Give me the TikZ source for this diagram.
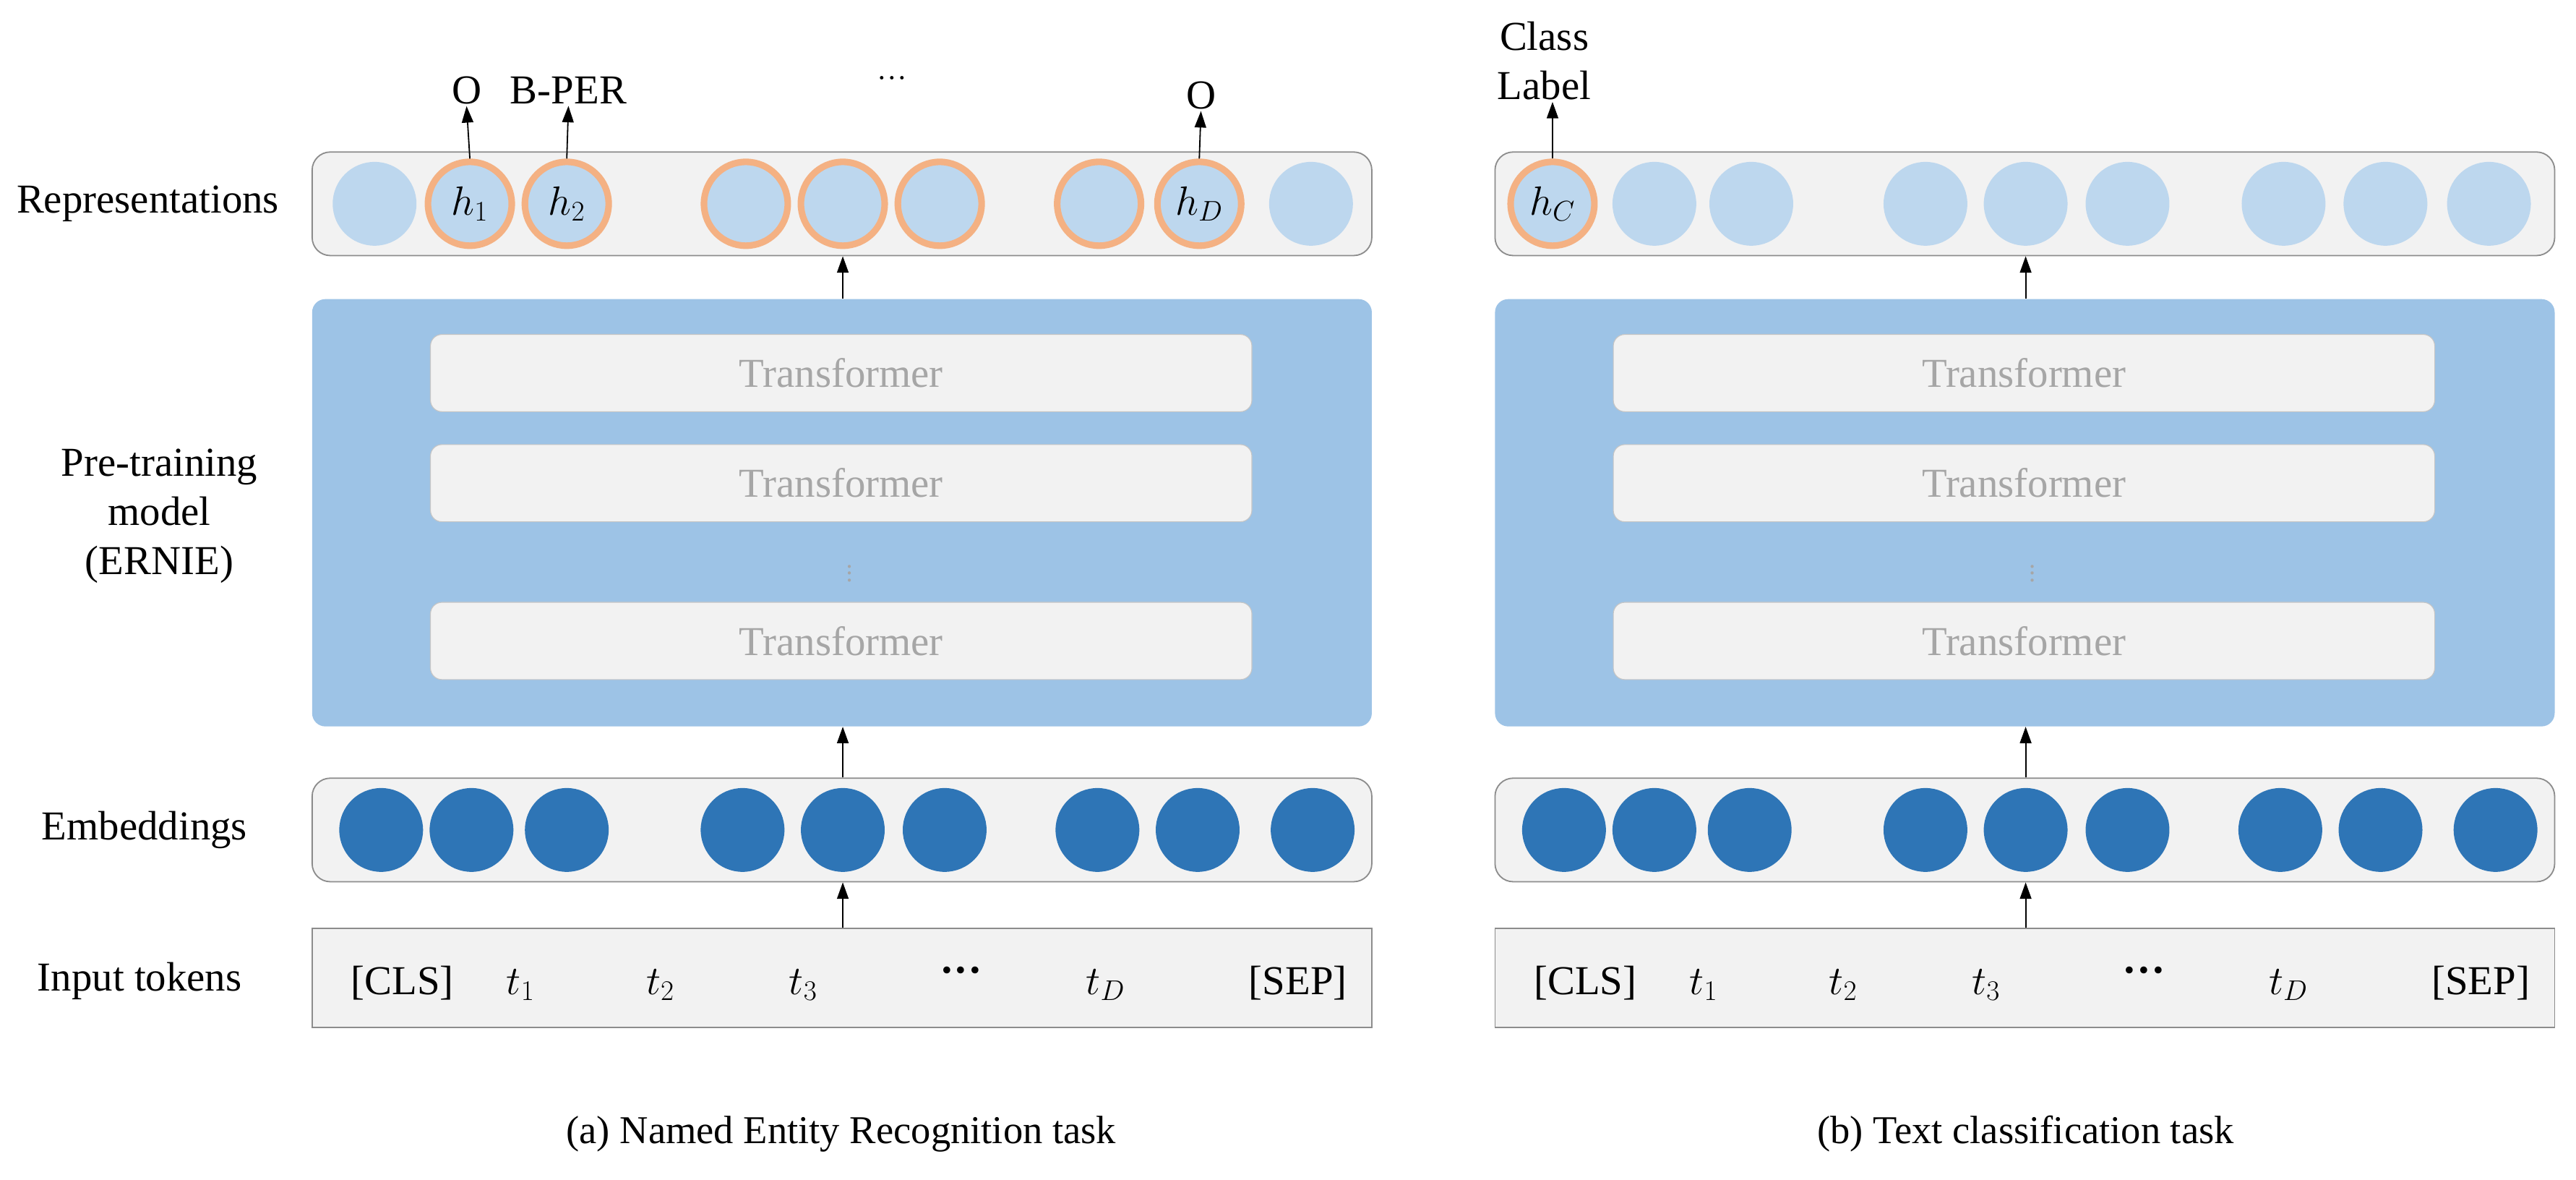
\documentclass[tikz,border=0pt]{standalone}
\usepackage{fontspec}
\setmainfont{Liberation Serif}
\usetikzlibrary{arrows.meta}
\definecolor{tubefill}{HTML}{F2F2F2}
\definecolor{tubedraw}{HTML}{8C8C8C}
\definecolor{bigblue}{HTML}{9DC3E6}
\definecolor{lightblue}{HTML}{BDD7EE}
\definecolor{darkblue}{HTML}{2E75B6}
\definecolor{orng}{HTML}{F4B183}
\definecolor{tgray}{HTML}{A6A6A6}
\begin{document}
\begin{tikzpicture}[x=1pt,y=-1pt,
  tube/.style={draw=tubedraw,fill=tubefill,line width=0.8pt,rounded corners=11pt,minimum width=645pt,minimum height=63pt,inner sep=0pt},
  inbox/.style={draw=tubedraw,fill=tubefill,line width=0.8pt,minimum width=645pt,minimum height=60pt,inner sep=0pt},
  big/.style={fill=bigblue,rounded corners=8pt,minimum width=645pt,minimum height=260pt,inner sep=0pt},
  trans/.style={draw=tubedraw!50,fill=tubefill,line width=0.5pt,rounded corners=7pt,minimum width=500pt,minimum height=47pt,text=tgray,font=\fontsize{25}{30}\selectfont},
  rep/.style={circle,fill=lightblue,minimum size=51pt,inner sep=0pt},
  repo/.style={circle,fill=lightblue,draw=orng,line width=4pt,minimum size=51pt,inner sep=0pt,font=\fontsize{25}{30}\selectfont},
  emb/.style={circle,fill=darkblue,minimum size=51pt,inner sep=0pt},
  lbl/.style={font=\fontsize{25}{30}\selectfont},
  tok/.style={font=\fontsize{25}{30}\selectfont,anchor=base},
  captext/.style={font=\fontsize{24}{28}\selectfont},
  arr/.style={-{Triangle[length=10pt,width=7pt]},line width=0.8pt}]
\useasboundingbox (0,0) rectangle (1568,718);
% row labels
\node[lbl] (lrep) at (90,124) {Representations};
\node[lbl,align=center] (lpre) at (97,314) {Pre-training\\model\\(ERNIE)};
\node[lbl] (lemb) at (88,505) {Embeddings};
\node[lbl] (lin) at (85,597) {Input tokens};
\foreach \p/\ox in {a/0,b/720}{
  \node[tube] (rt\p) at (512.5+\ox,124) {};
  \node[big] (bb\p) at (512.5+\ox,312) {};
  \node[trans] (tr1\p) at (512+\ox,227) {Transformer};
  \node[trans] (tr2\p) at (512+\ox,294) {Transformer};
  \node[trans] (tr3\p) at (512+\ox,390) {Transformer};
  \node[text=tgray,inner sep=0pt,font=\fontsize{16}{18}\selectfont] (vd\p) at (517+\ox,346) {$\vdots$};
  \node[tube] (et\p) at (512.5+\ox,505) {};
  \node[inbox] (ib\p) at (512.5+\ox,595) {};
  \foreach \x [count=\i] in {232,287,345,452,513,575,668,729,799}{
    \node[emb] (e\p\i) at (\x+\ox,505) {};
  }
  \node[tok] (tcls\p) at (245+\ox,605) {[CLS]};
  \node[tok] (tt1\p) at (317+\ox,605) {$t_1$};
  \node[tok] (tt2\p) at (402+\ox,605) {$t_2$};
  \node[tok] (tt3\p) at (489+\ox,605) {$t_3$};
  \node[tok] (tdots\p) at (585+\ox,599) {\textbf{\fontsize{26}{28}\selectfont ···}};
  \node[tok] (ttd\p) at (673+\ox,605) {$t_D$};
  \node[tok] (tsep\p) at (790+\ox,605) {[SEP]};
  \draw[arr] (ib\p.north -| e\p5) -- (et\p.south -| e\p5);
  \draw[arr] (et\p.north -| e\p5) -- (bb\p.south -| e\p5);
  \draw[arr] (bb\p.north -| e\p5) -- (rt\p.south -| e\p5);
}
% representations (a)
\node[rep] (ra1) at (228,124) {};
\node[repo] (ra2) at (286,124) {$h_1$};
\node[repo] (ra3) at (345,124) {$h_2$};
\node[repo] (ra4) at (454,124) {};
\node[repo] (ra5) at (513,124) {};
\node[repo] (ra6) at (572,124) {};
\node[repo] (ra7) at (669,124) {};
\node[repo] (ra8) at (730,124) {$h_D$};
\node[rep] (ra9) at (798,124) {};
% representations (b)
\node[repo] (rb1) at (945,124) {$h_C$};
\foreach \x [count=\i from 2] in {1007,1066,1172,1233,1295,1390,1452,1515}{
  \node[rep] (rb\i) at (\x,124) {};
}
% outputs
\node[lbl,inner sep=1pt] (oa1) at (284,55) {O};
\node[lbl,inner sep=1pt] (oa2) at (346,55) {B-PER};
\node[lbl,font=\fontsize{18}{20}\selectfont] (oad) at (543,50) {···};
\node[lbl,inner sep=1pt] (oa3) at (731,58) {O};
\draw[arr] (ra2.north) -- (oa1.south);
\draw[arr] (ra3.north) -- (oa2.south);
\draw[arr] (ra8.north) -- (oa3.south);
\node[lbl,align=center,inner sep=1pt,font=\fontsize{25}{30}\selectfont] (cl) at (940,37) {Class\\Label};
\draw[arr] (rb1.north) -- (cl.south -| rb1);
% captions
\node[captext] (capa) at (512,690) {(a) Named Entity Recognition task};
\node[captext] (capb) at (1233,690) {(b) Text classification task};
\end{tikzpicture}
\end{document}
